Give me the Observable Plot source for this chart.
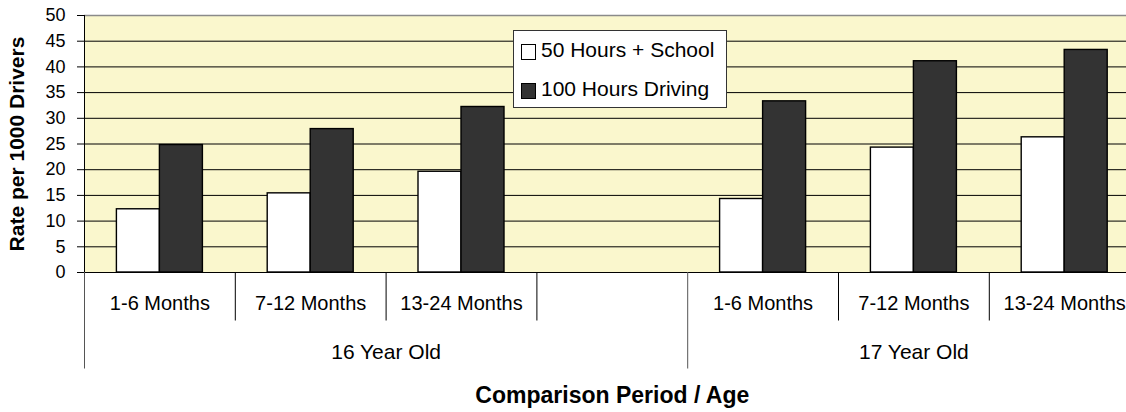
<!DOCTYPE html>
<html>
<head>
<meta charset="utf-8">
<script src="https://cdn.jsdelivr.net/npm/d3@7"></script>
<script src="https://cdn.jsdelivr.net/npm/@observablehq/plot@0.6"></script>
<style>
  html, body { margin: 0; padding: 0; background: #fff; overflow: hidden; }
  #wrap { position: relative; width: 1126px; height: 412px; overflow: hidden; font-family: "Liberation Sans", Arial, sans-serif; }
  #legend { position: absolute; left: 513px; top: 30px; width: 212px; height: 76px; background: #fff; border: 1px solid #333; box-sizing: content-box; }
  .row { position: absolute; left: 7px; display: flex; align-items: center; height: 26px; font-size: 21px; color: #000; white-space: nowrap; }
  .sw { width: 13px; height: 14px; border: 1.5px solid #000; margin-right: 5px; margin-top: 3px; }
</style>
</head>
<body>
<div id="wrap"><div id="legend"></div></div>
<script>
// ---- data ----
const groups = ["16 Year Old", "17 Year Old"];
const periods = ["1-6 Months", "7-12 Months", "13-24 Months"];
const seriesNames = ["50 Hours + School", "100 Hours Driving"];
const seriesColors = ["#ffffff", "#333333"];
const school16 = [12.3, 15.4, 19.6];
const driving16 = [24.8, 27.9, 32.2];
const school17 = [14.3, 24.3, 26.3];
const driving17 = [33.3, 41.1, 43.3];
const yTicks = [0, 5, 10, 15, 20, 25, 30, 35, 40, 45, 50];
const xTitle = "Comparison Period / Age";
const yTitle = "Rate per 1000 Drivers";

// ---- build table ----
const values = [[school16, driving16], [school17, driving17]];
const slotsPerGroup = periods.length + 1; // a blank slot separates the groups
const bars = [];
const catLabels = [];
const groupSpans = [];
groups.forEach((g, gi) => {
  const start = gi * slotsPerGroup;
  const end = gi === groups.length - 1 ? start + periods.length : start + slotsPerGroup;
  groupSpans.push({group: g, start, end, mid: (start + end) / 2});
  periods.forEach((p, pi) => {
    const slot = start + pi;
    catLabels.push({label: p, mid: slot + 0.5});
    seriesNames.forEach((s, si) => {
      bars.push({group: g, period: p, series: s, si, x1: slot + si / 2, x2: slot + (si + 1) / 2, value: values[gi][si][pi]});
    });
  });
});
const totalSlots = groupSpans[groupSpans.length - 1].end;
const longTicks = groupSpans.flatMap(d => [d.start]).concat([totalSlots]);
const shortTicks = d3.range(1, totalSlots).filter(t => !longTicks.includes(t));
const gridTicks = yTicks.filter(t => t !== 0 && t !== yTicks[yTicks.length - 1]);

const chart = Plot.plot({
  width: 1126,
  height: 412,
  marginLeft: 84,
  marginRight: -13.6,
  marginTop: 15,
  marginBottom: 140,
  style: {fontFamily: "'Liberation Sans', Arial, sans-serif", fontSize: "21px", color: "#000", background: "transparent", overflow: "hidden"},
  x: {type: "linear", domain: [0, totalSlots], axis: null, label: null},
  y: {domain: [yTicks[0], yTicks[yTicks.length - 1]], axis: null, label: null},
  marks: [
    Plot.frame({fill: "#faf7cd", stroke: null}),
    Plot.ruleY(gridTicks, {stroke: "#000", strokeWidth: 1}),
    Plot.ruleY([yTicks[yTicks.length - 1]], {stroke: "#8a8a8a", strokeWidth: 1.5}),
    Plot.rectY(bars.filter(d => d.si === 0), {x1: "x1", x2: "x2", y: "value", fill: seriesColors[0], stroke: "#000", strokeWidth: 1.4, insetLeft: 32.4}),
    Plot.rectY(bars.filter(d => d.si === 1), {x1: "x1", x2: "x2", y: "value", fill: seriesColors[1], stroke: "#000", strokeWidth: 1.4, insetRight: 32.4}),
    Plot.ruleY([0], {stroke: "#000", strokeWidth: 1}),
    Plot.ruleX([0], {stroke: "#000", strokeWidth: 1}),
    Plot.axisY({ticks: yTicks, tickSize: 7, tickPadding: 12, fontSize: 18, stroke: "#000"}),
    Plot.axisX({ticks: shortTicks, tickSize: 48.5, tickFormat: () => "", stroke: "#000"}),
    Plot.axisX({ticks: longTicks, tickSize: 96.5, tickFormat: () => "", stroke: "#555"}),
    Plot.text(catLabels, {x: "mid", text: "label", frameAnchor: "bottom", dy: 31.5, lineAnchor: "middle", textAnchor: "middle", fontSize: 20, fill: "#000"}),
    Plot.text(groupSpans, {x: "mid", text: "group", frameAnchor: "bottom", dy: 79.5, lineAnchor: "middle", textAnchor: "middle", fontSize: 21, fill: "#000"}),
    Plot.text([xTitle], {frameAnchor: "bottom", dy: 123, lineAnchor: "middle", textAnchor: "middle", fontSize: 23, fontWeight: "bold", fill: "#000"}),
    Plot.text([yTitle], {frameAnchor: "left", dx: -67, rotate: -90, lineAnchor: "middle", textAnchor: "middle", fontSize: 21, fontWeight: "bold", fill: "#000"})
  ]
});
document.getElementById("wrap").prepend(chart);

// legend overlay
const legend = document.getElementById("legend");
const rowTops = [6, 45];
seriesNames.forEach((s, i) => {
  const row = document.createElement("div");
  row.className = "row";
  row.style.top = rowTops[i] + "px";
  const sw = document.createElement("span");
  sw.className = "sw";
  sw.style.background = seriesColors[i];
  const t = document.createElement("span");
  t.textContent = s;
  row.append(sw, t);
  legend.append(row);
});
</script>
</body>
</html>
